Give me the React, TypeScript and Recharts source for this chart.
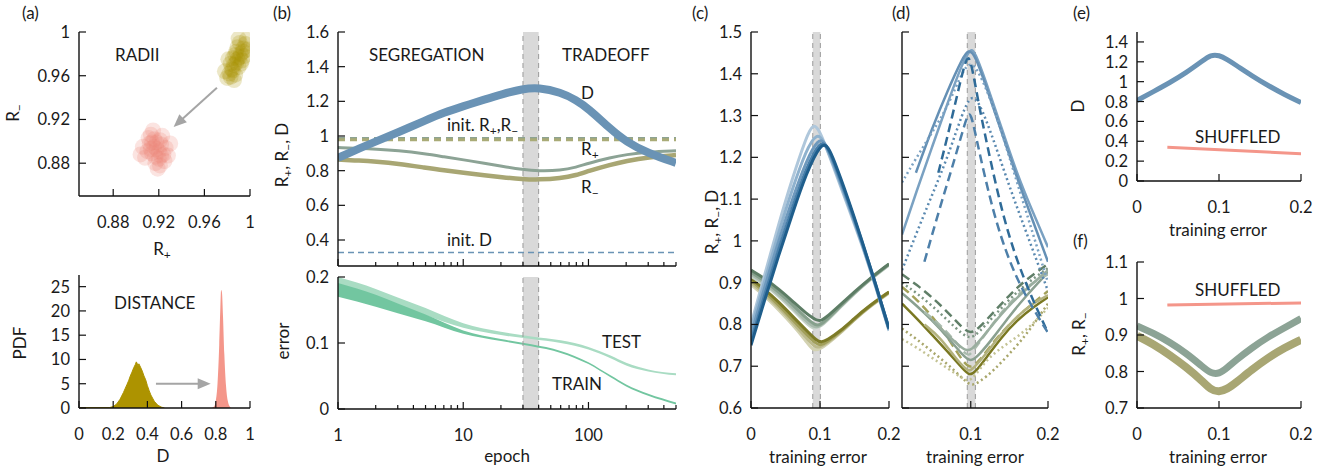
import React from 'react';
import {
  ComposedChart,
  ScatterChart,
  Scatter,
  Line,
  Area,
  XAxis,
  YAxis,
  ReferenceArea,
  ReferenceLine,
  ReferenceDot,
} from 'recharts';

// ---------- data ----------

// (a) radii clouds [R+, R-]
const radiiInit = [
  [0.989, 0.975], [0.986, 0.97], [0.992, 0.98], [0.984, 0.966], [0.994, 0.985],
  [0.99, 0.968], [0.988, 0.982], [0.993, 0.974], [0.985, 0.976], [0.996, 0.989],
  [0.982, 0.962], [0.991, 0.99], [0.987, 0.961], [0.995, 0.978], [0.983, 0.971],
  [0.997, 0.993], [0.98, 0.958], [0.978, 0.964], [0.986, 0.956], [0.998, 0.984],
  [0.99, 0.994], [0.981, 0.975], [0.988, 0.972], [0.991, 0.977], [0.987, 0.979],
  [0.989, 0.986], [0.985, 0.965], [0.992, 0.971], [0.994, 0.982], [0.983, 0.959],
];
const radiiTrained = [
  [0.918, 0.893], [0.914, 0.889], [0.922, 0.897], [0.912, 0.898], [0.924, 0.888],
  [0.916, 0.902], [0.92, 0.884], [0.91, 0.891], [0.926, 0.894], [0.917, 0.88],
  [0.913, 0.906], [0.923, 0.905], [0.928, 0.887], [0.908, 0.885], [0.921, 0.878],
  [0.911, 0.903], [0.93, 0.898], [0.906, 0.895], [0.915, 0.91], [0.925, 0.882],
  [0.919, 0.875], [0.904, 0.888], [0.916, 0.895], [0.92, 0.891], [0.918, 0.899],
  [0.913, 0.893], [0.922, 0.887], [0.917, 0.886], [0.921, 0.901], [0.914, 0.899],
];
const radiiArrow = [[0.971, 0.949], [0.938, 0.918]];
const radiiArrowTip = [0.933, 0.913];

// (a) distance pdf
const pdfInit = [
  [0, 0.1], [0.18, 0.1], [0.2, 0.3], [0.22, 0.8], [0.24, 1.8], [0.26, 3.2], [0.28, 4.8],
  [0.29, 5.6], [0.3, 6.6], [0.31, 7.4], [0.32, 8.3], [0.33, 9.0], [0.335, 9.5], [0.34, 9.2],
  [0.345, 8.6], [0.35, 9.1], [0.36, 8.4], [0.37, 7.6], [0.38, 6.6], [0.39, 5.8], [0.4, 4.6],
  [0.41, 3.6], [0.42, 2.7], [0.44, 1.4], [0.46, 0.6], [0.48, 0.2], [0.5, 0],
];
const pdfTrained = [
  [0.775, 0], [0.79, 0.3], [0.8, 1.5], [0.81, 5], [0.82, 13], [0.826, 20], [0.831, 24.3],
  [0.836, 23.8], [0.842, 19], [0.85, 11], [0.86, 4.5], [0.87, 1.5], [0.88, 0.4], [0.89, 0],
];
const pdfArrow = [[0.45, 5], [0.74, 5]];
const pdfArrowTip = [0.77, 5];

// (b) vs epoch
const epochs = [1, 1.5, 2, 3, 5, 7, 10, 15, 20, 30, 40, 60, 80, 100, 150, 200, 300, 500];
const distByEpoch = [0.874, 0.93, 0.968, 1.02, 1.09, 1.135, 1.172, 1.212, 1.24, 1.272, 1.28, 1.252, 1.207, 1.158, 1.04, 0.967, 0.9, 0.845];
const rPlusByEpoch = [0.933, 0.929, 0.925, 0.916, 0.897, 0.88, 0.863, 0.842, 0.826, 0.806, 0.798, 0.801, 0.82, 0.843, 0.875, 0.893, 0.908, 0.915];
const rMinusByEpoch = [0.864, 0.858, 0.852, 0.841, 0.817, 0.802, 0.789, 0.773, 0.763, 0.751, 0.748, 0.756, 0.774, 0.798, 0.835, 0.856, 0.878, 0.89];
const initRPlus = 0.986;
const initRMinus = 0.978;
const initDist = 0.328;
const bandEpoch = [30, 40];

const errEpochs = [1, 2, 3, 5, 10, 20, 35, 60, 100, 150, 200, 300, 500];
const testLo = [0.183, 0.168, 0.157, 0.142, 0.123, 0.112, 0.106, 0.1, 0.09, 0.077, 0.066, 0.057, 0.051];
const testHi = [0.2, 0.182, 0.169, 0.153, 0.13, 0.117, 0.11, 0.104, 0.094, 0.081, 0.07, 0.06, 0.054];
const trainLo = [0.17, 0.155, 0.145, 0.133, 0.114, 0.103, 0.095, 0.085, 0.068, 0.048, 0.034, 0.02, 0.007];
const trainHi = [0.191, 0.173, 0.16, 0.143, 0.119, 0.106, 0.098, 0.088, 0.071, 0.051, 0.037, 0.023, 0.01];

// (c) runs vs training error
const cDist = [
  [[0, 0.8], [0.02, 0.92], [0.04, 1.04], [0.06, 1.15], [0.08, 1.248], [0.09, 1.282], [0.1, 1.265], [0.12, 1.175], [0.14, 1.085], [0.16, 0.995], [0.18, 0.895], [0.2, 0.785]],
  [[0, 0.79], [0.02, 0.905], [0.04, 1.02], [0.06, 1.125], [0.08, 1.218], [0.095, 1.258], [0.105, 1.243], [0.12, 1.18], [0.14, 1.09], [0.16, 0.998], [0.18, 0.897], [0.2, 0.787]],
  [[0, 0.775], [0.02, 0.89], [0.04, 1.0], [0.06, 1.1], [0.08, 1.192], [0.098, 1.247], [0.108, 1.235], [0.12, 1.185], [0.14, 1.095], [0.16, 1.0], [0.18, 0.898], [0.2, 0.788]],
  [[0, 0.76], [0.02, 0.872], [0.04, 0.98], [0.06, 1.08], [0.08, 1.174], [0.1, 1.24], [0.11, 1.229], [0.12, 1.19], [0.14, 1.1], [0.16, 1.003], [0.18, 0.9], [0.2, 0.79]],
  [[0, 0.75], [0.02, 0.86], [0.04, 0.965], [0.06, 1.065], [0.08, 1.162], [0.102, 1.237], [0.112, 1.225], [0.12, 1.195], [0.14, 1.105], [0.16, 1.005], [0.18, 0.9], [0.2, 0.79]],
];
const cRPlus = [
  [[0, 0.915], [0.02, 0.895], [0.04, 0.868], [0.06, 0.836], [0.08, 0.803], [0.09, 0.789], [0.1, 0.794], [0.11, 0.808], [0.13, 0.842], [0.15, 0.874], [0.17, 0.904], [0.2, 0.942]],
  [[0, 0.92], [0.02, 0.899], [0.04, 0.872], [0.06, 0.841], [0.08, 0.808], [0.092, 0.792], [0.1, 0.796], [0.11, 0.81], [0.13, 0.843], [0.15, 0.875], [0.17, 0.905], [0.2, 0.943]],
  [[0, 0.925], [0.02, 0.904], [0.04, 0.878], [0.06, 0.848], [0.08, 0.815], [0.094, 0.797], [0.1, 0.799], [0.11, 0.812], [0.13, 0.845], [0.15, 0.876], [0.17, 0.906], [0.2, 0.944]],
  [[0, 0.93], [0.02, 0.91], [0.04, 0.885], [0.06, 0.856], [0.08, 0.826], [0.095, 0.809], [0.102, 0.809], [0.11, 0.818], [0.13, 0.848], [0.15, 0.878], [0.17, 0.907], [0.2, 0.945]],
];
const cRMinus = [
  [[0, 0.895], [0.02, 0.868], [0.04, 0.835], [0.06, 0.8], [0.08, 0.76], [0.09, 0.736], [0.1, 0.741], [0.11, 0.752], [0.13, 0.78], [0.15, 0.811], [0.17, 0.84], [0.2, 0.875]],
  [[0, 0.9], [0.02, 0.873], [0.04, 0.841], [0.06, 0.806], [0.08, 0.768], [0.093, 0.744], [0.1, 0.746], [0.11, 0.755], [0.13, 0.781], [0.15, 0.812], [0.17, 0.841], [0.2, 0.876]],
  [[0, 0.905], [0.02, 0.878], [0.04, 0.847], [0.06, 0.812], [0.08, 0.777], [0.096, 0.751], [0.102, 0.751], [0.11, 0.758], [0.13, 0.783], [0.15, 0.813], [0.17, 0.842], [0.2, 0.877]],
  [[0, 0.91], [0.02, 0.884], [0.04, 0.854], [0.06, 0.82], [0.08, 0.786], [0.095, 0.761], [0.102, 0.757], [0.11, 0.762], [0.13, 0.785], [0.15, 0.815], [0.17, 0.843], [0.2, 0.878]],
];
const bandC = [0.0895, 0.1005];

// (d) other architectures
const dDist = [
  [[0.011, 1.015], [0.03, 1.12], [0.05, 1.225], [0.07, 1.33], [0.09, 1.43], [0.1, 1.46], [0.105, 1.455], [0.12, 1.38], [0.14, 1.27], [0.16, 1.16], [0.18, 1.07], [0.2, 0.985]],
  [[0.029, 1.163], [0.05, 1.27], [0.07, 1.36], [0.09, 1.44], [0.097, 1.458], [0.105, 1.448], [0.12, 1.37], [0.14, 1.26], [0.16, 1.15], [0.18, 1.05], [0.2, 0.95]],
  [[0.011, 1.14], [0.03, 1.2], [0.05, 1.26], [0.07, 1.32], [0.09, 1.41], [0.1, 1.428], [0.11, 1.408], [0.13, 1.32], [0.15, 1.2], [0.17, 1.08], [0.2, 0.9]],
  [[0.011, 0.93], [0.03, 1.02], [0.05, 1.11], [0.07, 1.2], [0.09, 1.31], [0.1, 1.348], [0.11, 1.338], [0.13, 1.24], [0.15, 1.13], [0.17, 1.03], [0.2, 0.88]],
  [[0.058, 1.163], [0.07, 1.25], [0.085, 1.37], [0.095, 1.445], [0.1, 1.435], [0.11, 1.33], [0.12, 1.24], [0.14, 1.07], [0.16, 0.95], [0.18, 0.86], [0.2, 0.78]],
  [[0.04, 0.95], [0.06, 1.08], [0.08, 1.2], [0.095, 1.3], [0.1, 1.312], [0.11, 1.22], [0.13, 1.06], [0.15, 0.95], [0.17, 0.87], [0.2, 0.78]],
];
const dRPlus = [
  [[0.011, 0.92], [0.03, 0.895], [0.05, 0.865], [0.07, 0.83], [0.09, 0.79], [0.1, 0.778], [0.11, 0.79], [0.13, 0.83], [0.15, 0.87], [0.17, 0.905], [0.2, 0.945]],
  [[0.011, 0.875], [0.03, 0.845], [0.05, 0.81], [0.07, 0.77], [0.09, 0.725], [0.1, 0.71], [0.11, 0.725], [0.13, 0.77], [0.15, 0.82], [0.17, 0.865], [0.2, 0.925]],
  [[0.011, 0.9], [0.03, 0.875], [0.05, 0.845], [0.07, 0.81], [0.09, 0.775], [0.1, 0.766], [0.11, 0.78], [0.13, 0.82], [0.15, 0.86], [0.17, 0.895], [0.2, 0.935]],
  [[0.04, 0.83], [0.06, 0.8], [0.08, 0.76], [0.095, 0.724], [0.1, 0.728], [0.12, 0.78], [0.14, 0.83], [0.16, 0.87], [0.18, 0.9], [0.2, 0.92]],
  [[0.05, 0.81], [0.07, 0.775], [0.09, 0.74], [0.1, 0.734], [0.12, 0.78], [0.15, 0.85], [0.2, 0.93]],
];
const dRMinus = [
  [[0.011, 0.85], [0.03, 0.815], [0.05, 0.775], [0.07, 0.735], [0.09, 0.693], [0.098, 0.678], [0.105, 0.684], [0.12, 0.72], [0.14, 0.77], [0.16, 0.81], [0.18, 0.84], [0.2, 0.865]],
  [[0.011, 0.89], [0.03, 0.86], [0.05, 0.82], [0.07, 0.77], [0.09, 0.71], [0.1, 0.694], [0.11, 0.71], [0.13, 0.76], [0.15, 0.8], [0.17, 0.835], [0.2, 0.88]],
  [[0.011, 0.79], [0.03, 0.765], [0.05, 0.735], [0.07, 0.705], [0.09, 0.67], [0.1, 0.653], [0.11, 0.66], [0.13, 0.69], [0.15, 0.73], [0.17, 0.77], [0.2, 0.85]],
  [[0.011, 0.765], [0.03, 0.745], [0.05, 0.72], [0.07, 0.695], [0.09, 0.67], [0.097, 0.664], [0.105, 0.675], [0.12, 0.715], [0.14, 0.745], [0.16, 0.77], [0.18, 0.8], [0.2, 0.84]],
  [[0.04, 0.8], [0.06, 0.77], [0.08, 0.72], [0.095, 0.69], [0.1, 0.687], [0.12, 0.73], [0.14, 0.78], [0.16, 0.82], [0.18, 0.85], [0.2, 0.87]],
];
const bandD = [0.0955, 0.106];

// (e), (f) averages and shuffled control
const errGrid = [0, 0.02, 0.04, 0.06, 0.08, 0.09, 0.1, 0.11, 0.12, 0.14, 0.16, 0.18, 0.2];
const eDist = [0.81, 0.9, 0.99, 1.09, 1.21, 1.27, 1.268, 1.222, 1.17, 1.06, 0.96, 0.87, 0.79];
const fRPlus = [0.925, 0.905, 0.88, 0.85, 0.813, 0.795, 0.793, 0.81, 0.83, 0.865, 0.895, 0.92, 0.945];
const fRMinus = [0.898, 0.875, 0.845, 0.812, 0.773, 0.75, 0.743, 0.752, 0.768, 0.805, 0.838, 0.865, 0.887];
const shuffledDist = [[0.037, 0.34], [0.2, 0.275]];
const shuffledRadii = [[0.037, 0.982], [0.2, 0.988]];

// ---------- styling ----------
const FONT = 'Lato, "Noto Sans", sans-serif';
const INK = '#1a1a1a';
const AXIS = { stroke: '#111', strokeWidth: 1.4 };
const BLUE = '#6a93b5';
const GREEN = '#8ca395';
const OLIVE = '#a8a673';
const SALMON = '#f4968a';
const YW = 60;
const XH = 45;
const MT = 10;
const MR = 24;
const TICK_FS = 16.5;

const pts = (a: number[][]) => a.map(([x, y]) => ({ x, y }));
const zipPts = (xs: number[], ys: number[]) => xs.map((x, i) => ({ x, y: ys[i] }));
const fmt = (v: number) => String(+v.toFixed(2));
const isDecade = (v: number) => v === 1 || v === 10 || v === 100;

type Side = 'left' | 'right' | 'top' | 'bottom';

const makeTick = (side: Side, label: boolean, minor?: (v: number) => boolean) => (p: any) => {
  const { x, y, payload } = p;
  const v = payload.value as number;
  const isMinor = minor ? minor(v) : false;
  const len = isMinor ? 4 : 7;
  let l = [x, y, x, y - len];
  if (side === 'left') l = [x, y, x + len, y];
  if (side === 'right') l = [x, y, x - len, y];
  if (side === 'top') l = [x, y, x, y + len];
  const show = label && !isMinor;
  return (
    <g>
      <line x1={l[0]} y1={l[1]} x2={l[2]} y2={l[3]} stroke="#111" strokeWidth={1.2} />
      {show && side === 'left' && (
        <text x={x - 9} y={y} textAnchor="end" dominantBaseline="central" fontSize={TICK_FS} fill={INK} fontFamily={FONT}>
          {fmt(v)}
        </text>
      )}
      {show && side === 'bottom' && (
        <text x={x} y={y + 26} textAnchor="middle" dominantBaseline="central" fontSize={TICK_FS} fill={INK} fontFamily={FONT}>
          {fmt(v)}
        </text>
      )}
    </g>
  );
};

type Frame = {
  x: number[];
  y: number[];
  xt: number[];
  yt: number[];
  log?: boolean;
  xl?: boolean;
  yl?: boolean;
  minor?: (v: number) => boolean;
  scatter?: boolean;
};

// four axes give the closed box with inward ticks on every side
const frame = (f: Frame) => {
  const scale = f.log ? 'log' : 'linear';
  const common = {
    type: 'number' as const,
    interval: 0 as const,
    allowDataOverflow: true,
    tickSize: 0,
    tickMargin: 0,
    tickLine: false,
    axisLine: AXIS,
  };
  return [
    <XAxis key="xb" dataKey="x" scale={scale} domain={f.x} ticks={f.xt} height={XH} tick={makeTick('bottom', !!f.xl, f.minor)} {...common} />,
    <XAxis key="xt" xAxisId="top" orientation="top" scale={scale} domain={f.x} ticks={f.xt} height={0} tick={makeTick('top', false, f.minor)} {...common} />,
    <YAxis key="yl" dataKey={f.scatter ? 'y' : undefined} domain={f.y} ticks={f.yt} width={YW} tick={makeTick('left', !!f.yl)} {...common} />,
    <YAxis key="yr" yAxisId="right" orientation="right" domain={f.y} ticks={f.yt} width={0} tick={makeTick('right', false)} {...common} />,
  ];
};

type Geo = { px: number; py: number; pw: number; ph: number };
const geoA1: Geo = { px: 79, py: 32, pw: 171, ph: 164 };
const geoA2: Geo = { px: 79, py: 275, pw: 171, ph: 133 };
const geoB1: Geo = { px: 338, py: 32, pw: 338, ph: 234 };
const geoB2: Geo = { px: 338, py: 277, pw: 338, ph: 132 };
const geoC: Geo = { px: 751, py: 32, pw: 138, ph: 376 };
const geoD: Geo = { px: 902, py: 32, pw: 146, ph: 376 };
const geoE: Geo = { px: 1137, py: 32, pw: 164, ph: 149 };
const geoF: Geo = { px: 1137, py: 262, pw: 164, ph: 146 };

const box = (g: Geo) => ({
  style: { position: 'absolute' as const, left: g.px - YW, top: g.py - MT },
  size: { width: g.pw + YW + MR, height: g.ph + MT + XH, margin: { top: MT, right: MR, left: 0, bottom: 0 } },
});

const arrowHead = (angle: number) => (p: any) => (
  <polygon
    points="0,0 -13,-5.5 -13,5.5"
    transform={`translate(${p.cx},${p.cy}) rotate(${angle})`}
    fill="#a5a5a5"
  />
);

const cloudDot = (color: string) => (p: any) => (
  <circle cx={p.cx} cy={p.cy} r={8} fill={color} fillOpacity={0.22} />
);

const bandParts = (x: number[]) => [
  <ReferenceArea key="ba" x1={x[0]} x2={x[1]} fill="#d9d9d9" fillOpacity={1} stroke="none" />,
  <ReferenceLine key="bl" x={x[0]} stroke="#9a9a9a" strokeDasharray="5 4" />,
  <ReferenceLine key="br" x={x[1]} stroke="#9a9a9a" strokeDasharray="5 4" />,
];

const cDistColors = ['#afc7db', '#8fb2ce', '#6e99bd', '#477ea9', '#1f5e8c'];
const cRPlusColors = ['#c5d2c8', '#a7b9ab', '#86a08c', '#5d7d65'];
const cRMinusColors = ['#d3d2b2', '#bcba8c', '#a19f5a', '#7d7b27'];
const DOT = '2 3';
const DASH = '9 5';
const dDistStyle = [
  { c: '#7aa1c2', d: undefined },
  { c: '#6590b5', d: undefined },
  { c: '#7aa1c2', d: DOT },
  { c: '#5a89b0', d: DOT },
  { c: '#2f6b98', d: DASH },
  { c: '#4d7fa9', d: DASH },
];
const dRPlusStyle = [
  { c: '#607f68', d: DASH },
  { c: '#8aa090', d: undefined },
  { c: '#7c9683', d: DOT },
  { c: '#a9bbad', d: DASH },
  { c: '#9aae9f', d: undefined },
];
const dRMinusStyle = [
  { c: '#7a7822', d: undefined },
  { c: '#a3a15a', d: DASH },
  { c: '#a8a66a', d: DOT },
  { c: '#c3c293', d: DOT },
  { c: '#b3b27f', d: undefined },
];

const Sub = ({ s }: { s: string }) => (
  <tspan dy={4} fontSize={12}>
    {s}
  </tspan>
);

const App = () => {
  const a1 = box(geoA1);
  const a2 = box(geoA2);
  const b1 = box(geoB1);
  const b2 = box(geoB2);
  const c = box(geoC);
  const d = box(geoD);
  const e = box(geoE);
  const f = box(geoF);
  const logTicks = [1, 2, 3, 4, 5, 6, 7, 8, 9, 10, 20, 30, 40, 50, 60, 70, 80, 90, 100, 200, 300, 400, 500];
  const minor = (v: number) => !isDecade(v);
  const errTest = errEpochs.map((x, i) => ({ x, r: [testLo[i], testHi[i]] }));
  const errTrain = errEpochs.map((x, i) => ({ x, r: [trainLo[i], trainHi[i]] }));
  const ticksC = [0.6, 0.7, 0.8, 0.9, 1, 1.1, 1.2, 1.3, 1.4, 1.5];
  const t = { fontSize: 17, fill: INK, fontFamily: FONT };

  return (
    <div style={{ position: 'absolute', left: 0, top: 0, width: 1332, height: 472, background: '#fff', fontFamily: FONT }}>
      {/* (a) radii */}
      <div style={a1.style}>
        <ScatterChart {...a1.size}>
          {frame({ x: [0.85, 1], y: [0.85, 1], xt: [0.88, 0.92, 0.96, 1], yt: [0.88, 0.92, 0.96, 1], xl: true, yl: true, scatter: true })}
          <Scatter data={pts(radiiInit)} isAnimationActive={false} shape={cloudDot('#a89200')} />
          <Scatter data={pts(radiiTrained)} isAnimationActive={false} shape={cloudDot('#ee8476')} />
          <ReferenceLine segment={pts(radiiArrow)} stroke="#a5a5a5" strokeWidth={2} />
          <ReferenceDot x={radiiArrowTip[0]} y={radiiArrowTip[1]} shape={arrowHead(137)} />
        </ScatterChart>
      </div>

      {/* (a) distance pdf */}
      <div style={a2.style}>
        <ComposedChart {...a2.size}>
          {frame({ x: [0, 1], y: [0, 27.4], xt: [0, 0.2, 0.4, 0.6, 0.8, 1], yt: [0, 5, 10, 15, 20, 25], xl: true, yl: true })}
          <Area data={pts(pdfInit)} dataKey="y" type="linear" fill="#ad9300" fillOpacity={1} stroke="#ad9300" strokeWidth={1} isAnimationActive={false} />
          <Area data={pts(pdfTrained)} dataKey="y" type="monotone" fill={SALMON} fillOpacity={1} stroke="none" isAnimationActive={false} />
          <ReferenceLine segment={pts(pdfArrow)} stroke="#a5a5a5" strokeWidth={2} />
          <ReferenceDot x={pdfArrowTip[0]} y={pdfArrowTip[1]} shape={arrowHead(0)} />
        </ComposedChart>
      </div>

      {/* (b) radii and distance vs epoch */}
      <div style={b1.style}>
        <ComposedChart {...b1.size}>
          {frame({ x: [1, 500], y: [0.25, 1.6], xt: logTicks, yt: [0.4, 0.6, 0.8, 1, 1.2, 1.4, 1.6], log: true, yl: true, minor })}
          {bandParts(bandEpoch)}
          <ReferenceLine y={initRPlus} stroke="#8da393" strokeWidth={3} strokeDasharray="7 5" />
          <ReferenceLine y={initRMinus} stroke="#a9ab77" strokeWidth={3} strokeDasharray="7 5" />
          <ReferenceLine y={initDist} stroke={BLUE} strokeWidth={1.5} strokeDasharray="6 4" />
          <Line data={zipPts(epochs, rPlusByEpoch)} dataKey="y" type="basis" stroke={GREEN} strokeWidth={3} dot={false} isAnimationActive={false} />
          <Line data={zipPts(epochs, rMinusByEpoch)} dataKey="y" type="basis" stroke={OLIVE} strokeWidth={4.5} dot={false} isAnimationActive={false} />
          <Line data={zipPts(epochs, distByEpoch)} dataKey="y" type="basis" stroke={BLUE} strokeWidth={8} dot={false} isAnimationActive={false} />
        </ComposedChart>
      </div>

      {/* (b) error vs epoch */}
      <div style={b2.style}>
        <ComposedChart {...b2.size}>
          {frame({ x: [1, 500], y: [0, 0.2], xt: logTicks, yt: [0, 0.1, 0.2], log: true, xl: true, yl: true, minor })}
          {bandParts(bandEpoch)}
          <Area data={errTest} dataKey="r" type="monotone" fill="#a9dcc3" fillOpacity={1} stroke="none" isAnimationActive={false} />
          <Area data={errTrain} dataKey="r" type="monotone" fill="#72c6a0" fillOpacity={1} stroke="none" isAnimationActive={false} />
        </ComposedChart>
      </div>

      {/* (c) */}
      <div style={c.style}>
        <ComposedChart {...c.size}>
          {frame({ x: [0, 0.2], y: [0.6, 1.5], xt: [0, 0.1, 0.2], yt: ticksC, xl: true, yl: true })}
          {bandParts(bandC)}
          {cRMinus.map((s, i) => (
            <Line key={`m${i}`} data={pts(s)} dataKey="y" type="basis" stroke={cRMinusColors[i]} strokeWidth={3} dot={false} isAnimationActive={false} />
          ))}
          {cRPlus.map((s, i) => (
            <Line key={`p${i}`} data={pts(s)} dataKey="y" type="basis" stroke={cRPlusColors[i]} strokeWidth={3} dot={false} isAnimationActive={false} />
          ))}
          {cDist.map((s, i) => (
            <Line key={`d${i}`} data={pts(s)} dataKey="y" type="basis" stroke={cDistColors[i]} strokeWidth={3} dot={false} isAnimationActive={false} />
          ))}
        </ComposedChart>
      </div>

      {/* (d) */}
      <div style={d.style}>
        <ComposedChart {...d.size}>
          {frame({ x: [0.011, 0.2], y: [0.6, 1.5], xt: [0.1, 0.2], yt: ticksC, xl: true })}
          {bandParts(bandD)}
          {dRMinus.map((s, i) => (
            <Line key={`m${i}`} data={pts(s)} dataKey="y" type="basis" stroke={dRMinusStyle[i].c} strokeDasharray={dRMinusStyle[i].d} strokeWidth={2.5} dot={false} isAnimationActive={false} />
          ))}
          {dRPlus.map((s, i) => (
            <Line key={`p${i}`} data={pts(s)} dataKey="y" type="basis" stroke={dRPlusStyle[i].c} strokeDasharray={dRPlusStyle[i].d} strokeWidth={2.5} dot={false} isAnimationActive={false} />
          ))}
          {dDist.map((s, i) => (
            <Line key={`d${i}`} data={pts(s)} dataKey="y" type="basis" stroke={dDistStyle[i].c} strokeDasharray={dDistStyle[i].d} strokeWidth={2.5} dot={false} isAnimationActive={false} />
          ))}
        </ComposedChart>
      </div>

      {/* (e) */}
      <div style={e.style}>
        <ComposedChart {...e.size}>
          {frame({ x: [0, 0.2], y: [0, 1.5], xt: [0, 0.1, 0.2], yt: [0, 0.2, 0.4, 0.6, 0.8, 1, 1.2, 1.4], xl: true, yl: true })}
          <Line data={zipPts(errGrid, eDist)} dataKey="y" type="basis" stroke={BLUE} strokeWidth={5} dot={false} isAnimationActive={false} />
          <Line data={pts(shuffledDist)} dataKey="y" type="linear" stroke={SALMON} strokeWidth={3} dot={false} isAnimationActive={false} />
        </ComposedChart>
      </div>

      {/* (f) */}
      <div style={f.style}>
        <ComposedChart {...f.size}>
          {frame({ x: [0, 0.2], y: [0.7, 1.1], xt: [0, 0.1, 0.2], yt: [0.7, 0.8, 0.9, 1, 1.1], xl: true, yl: true })}
          <Line data={zipPts(errGrid, fRPlus)} dataKey="y" type="basis" stroke={GREEN} strokeWidth={7} dot={false} isAnimationActive={false} />
          <Line data={zipPts(errGrid, fRMinus)} dataKey="y" type="basis" stroke={OLIVE} strokeWidth={8} dot={false} isAnimationActive={false} />
          <Line data={pts(shuffledRadii)} dataKey="y" type="linear" stroke={SALMON} strokeWidth={3} dot={false} isAnimationActive={false} />
        </ComposedChart>
      </div>

      {/* labels */}
      <svg width={1332} height={472} style={{ position: 'absolute', left: 0, top: 0, pointerEvents: 'none' }}>
        <g {...t}>
          <text x={22} y={19}>(a)</text>
          <text x={273} y={19}>(b)</text>
          <text x={692} y={19}>(c)</text>
          <text x={892} y={19}>(d)</text>
          <text x={1073} y={19}>(e)</text>
          <text x={1073} y={247}>(f)</text>

          <text x={19} y={113} textAnchor="middle" transform="rotate(-90 19 113)">
            R<Sub s="−" />
          </text>
          <text x={162} y={255} textAnchor="middle">
            R<Sub s="+" />
          </text>
          <text x={26} y={343} textAnchor="middle" transform="rotate(-90 26 343)">PDF</text>
          <text x={163} y={462} textAnchor="middle">D</text>

          <text x={288} y={155} textAnchor="middle" transform="rotate(-90 288 155)">
            R<Sub s="+" /><tspan dy={-4}>, R</tspan><Sub s="−" /><tspan dy={-4}>, D</tspan>
          </text>
          <text x={289} y={341} textAnchor="middle" transform="rotate(-90 289 341)">error</text>
          <text x={507} y={462} textAnchor="middle">epoch</text>

          <text x={718} y={222} textAnchor="middle" transform="rotate(-90 718 222)">
            R<Sub s="+" /><tspan dy={-4}>, R</tspan><Sub s="−" /><tspan dy={-4}>, D</tspan>
          </text>
          <text x={818} y={463} textAnchor="middle">training error</text>
          <text x={975} y={463} textAnchor="middle">training error</text>

          <text x={1084} y={106} textAnchor="middle" transform="rotate(-90 1084 106)">D</text>
          <text x={1218} y={236} textAnchor="middle">training error</text>
          <text x={1085} y={334} textAnchor="middle" transform="rotate(-90 1085 334)">
            R<Sub s="+" /><tspan dy={-4}>, R</tspan><Sub s="−" />
          </text>
          <text x={1218} y={463} textAnchor="middle">training error</text>

          <text x={115} y={61}>RADII</text>
          <text x={114} y={309}>DISTANCE</text>
          <text x={369} y={61}>SEGREGATION</text>
          <text x={562} y={61}>TRADEOFF</text>
          <text x={581} y={99}>D</text>
          <text x={447} y={131}>
            init. R<Sub s="+" /><tspan dy={-4}>,R</tspan><Sub s="−" />
          </text>
          <text x={581} y={155}>
            R<Sub s="+" />
          </text>
          <text x={581} y={193}>
            R<Sub s="−" />
          </text>
          <text x={447} y={246}>init. D</text>
          <text x={602} y={348}>TEST</text>
          <text x={552} y={390}>TRAIN</text>
          <text x={1195} y={143}>SHUFFLED</text>
          <text x={1195} y={296}>SHUFFLED</text>
        </g>
      </svg>
    </div>
  );
};

export default App;
